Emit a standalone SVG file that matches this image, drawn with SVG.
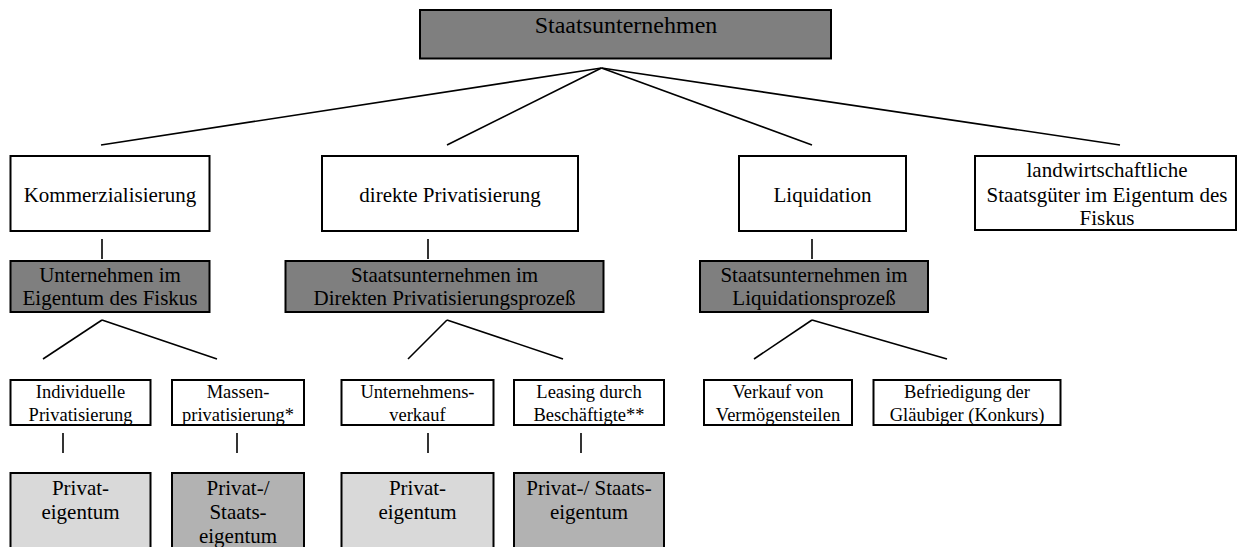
<svg xmlns="http://www.w3.org/2000/svg" width="1237" height="547" viewBox="0 0 1237 547">
<style>
  .box { stroke: #000; stroke-width: 2; }
  .white { fill: #ffffff; }
  .dark { fill: #7f7f7f; }
  .light { fill: #d9d9d9; }
  .mid { fill: #b2b2b2; }
  text { font-family: "Liberation Serif", "Times New Roman", serif; fill: #000; text-anchor: middle; }
  .t24 { font-size: 24px; }
  .t21 { font-size: 21px; }
  .t18 { font-size: 18.5px; }
  .conn line { stroke: #000; stroke-width: 1.6; fill: none; }
</style>
<rect width="1237" height="547" fill="#ffffff"/>

<g id="connectors" class="conn">
  <line x1="601.5" y1="68" x2="101" y2="145"/>
  <line x1="601.5" y1="68" x2="447" y2="145"/>
  <line x1="601.5" y1="68" x2="812" y2="145"/>
  <line x1="601.5" y1="68" x2="1120" y2="145"/>
  <line x1="102" y1="239" x2="102" y2="259"/>
  <line x1="428" y1="239" x2="428" y2="259"/>
  <line x1="812" y1="239" x2="812" y2="259"/>
  <line x1="102" y1="320" x2="43" y2="359"/>
  <line x1="102" y1="320" x2="217" y2="359"/>
  <line x1="447" y1="320" x2="408" y2="359"/>
  <line x1="447" y1="320" x2="563" y2="359"/>
  <line x1="812" y1="320" x2="754" y2="359"/>
  <line x1="812" y1="320" x2="947" y2="359"/>
  <line x1="63" y1="433" x2="63" y2="453"/>
  <line x1="237" y1="433" x2="237" y2="453"/>
  <line x1="428" y1="433" x2="428" y2="453"/>
  <line x1="581" y1="433" x2="581" y2="453"/>
</g>

<g id="staatsunternehmen">
  <rect class="box dark" x="420" y="10" width="411" height="48.5"/>
  <text class="t24" x="626" y="33">Staatsunternehmen</text>
</g>

<g id="kommerzialisierung">
  <rect class="box white" x="10.5" y="156" width="199" height="75"/>
  <text class="t21" x="110" y="202">Kommerzialisierung</text>
</g>
<g id="direkte-privatisierung">
  <rect class="box white" x="322" y="156" width="256" height="75"/>
  <text class="t21" x="450" y="202">direkte Privatisierung</text>
</g>
<g id="liquidation">
  <rect class="box white" x="739" y="156" width="167" height="75"/>
  <text class="t21" x="822.5" y="202">Liquidation</text>
</g>
<g id="landwirtschaftliche">
  <rect class="box white" x="975" y="156" width="261" height="74"/>
  <text class="t21" x="1107" y="177">landwirtschaftliche</text>
  <text class="t21" x="1107" y="202">Staatsgüter im Eigentum des</text>
  <text class="t21" x="1107" y="225">Fiskus</text>
</g>

<g id="unternehmen-fiskus">
  <rect class="box dark" x="10.5" y="261" width="199" height="51"/>
  <text class="t21" x="110" y="282">Unternehmen im</text>
  <text class="t21" x="110" y="305">Eigentum des Fiskus</text>
</g>
<g id="staatsunternehmen-privatisierung">
  <rect class="box dark" x="285.5" y="261" width="318" height="51"/>
  <text class="t21" x="444.5" y="282">Staatsunternehmen im</text>
  <text class="t21" x="444.5" y="305">Direkten Privatisierungsprozeß</text>
</g>
<g id="staatsunternehmen-liquidation">
  <rect class="box dark" x="700" y="261" width="228" height="51"/>
  <text class="t21" x="814" y="282">Staatsunternehmen im</text>
  <text class="t21" x="814" y="305">Liquidationsprozeß</text>
</g>

<g id="individuelle">
  <rect class="box white" x="10.5" y="380" width="140" height="45"/>
  <text class="t18" x="80.5" y="398">Individuelle</text>
  <text class="t18" x="80.5" y="421">Privatisierung</text>
</g>
<g id="massen">
  <rect class="box white" x="172" y="380" width="132" height="45"/>
  <text class="t18" x="238" y="398">Massen-</text>
  <text class="t18" x="238" y="421">privatisierung*</text>
</g>
<g id="unternehmensverkauf">
  <rect class="box white" x="341.5" y="380" width="152" height="45"/>
  <text class="t18" x="417.5" y="398">Unternehmens-</text>
  <text class="t18" x="417.5" y="421">verkauf</text>
</g>
<g id="leasing">
  <rect class="box white" x="514" y="380" width="150" height="45"/>
  <text class="t18" x="589" y="398">Leasing durch</text>
  <text class="t18" x="589" y="421">Beschäftigte**</text>
</g>
<g id="verkauf">
  <rect class="box white" x="704" y="380" width="148" height="45"/>
  <text class="t18" x="778" y="398">Verkauf von</text>
  <text class="t18" x="778" y="421">Vermögensteilen</text>
</g>
<g id="befriedigung">
  <rect class="box white" x="873.5" y="380" width="187" height="45"/>
  <text class="t18" x="967" y="398">Befriedigung der</text>
  <text class="t18" x="967" y="421">Gläubiger (Konkurs)</text>
</g>

<g id="privateigentum-1">
  <rect class="box light" x="10.5" y="473" width="140" height="90"/>
  <text class="t21" x="80.5" y="495">Privat-</text>
  <text class="t21" x="80.5" y="519">eigentum</text>
</g>
<g id="privat-staatseigentum-1">
  <rect class="box mid" x="172" y="473" width="132" height="90"/>
  <text class="t21" x="238" y="495">Privat-/</text>
  <text class="t21" x="238" y="519">Staats-</text>
  <text class="t21" x="238" y="543">eigentum</text>
</g>
<g id="privateigentum-2">
  <rect class="box light" x="341.5" y="473" width="152" height="90"/>
  <text class="t21" x="417.5" y="495">Privat-</text>
  <text class="t21" x="417.5" y="519">eigentum</text>
</g>
<g id="privat-staatseigentum-2">
  <rect class="box mid" x="514" y="473" width="150" height="90"/>
  <text class="t21" x="589" y="495">Privat-/ Staats-</text>
  <text class="t21" x="589" y="519">eigentum</text>
</g>
</svg>
